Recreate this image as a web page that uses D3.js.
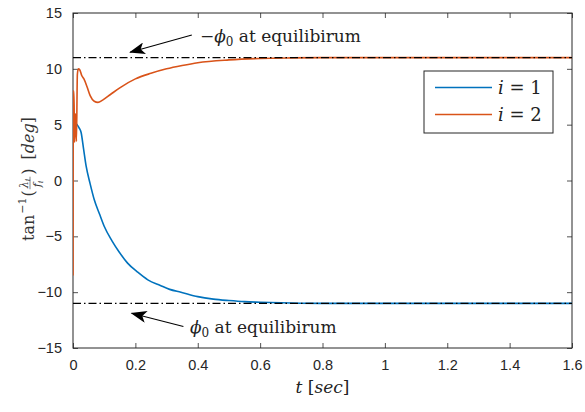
<!DOCTYPE html>
<html>
<head>
<meta charset="utf-8">
<script src="https://cdn.jsdelivr.net/npm/d3@7"></script>
<style>
  body { margin: 0; background: #fff; }
  svg { display: block; }
  text { white-space: pre; }
</style>
</head>
<body>
<div id="chart"></div>
<script>
// data
const tBlue = [0, 0.005, 0.013, 0.02, 0.026, 0.034, 0.042, 0.055, 0.068, 0.085, 0.1, 0.125, 0.148, 0.175, 0.207, 0.24, 0.28, 0.31, 0.346, 0.4, 0.45, 0.5, 0.55, 0.6, 0.7, 0.8, 1.0, 1.2, 1.4, 1.6];
const yBlue = [5.0, 5.2, 5.0, 4.7, 4.3, 2.8, 1.3, -0.3, -1.7, -3.0, -4.1, -5.4, -6.4, -7.4, -8.2, -8.9, -9.4, -9.75, -10.0, -10.4, -10.62, -10.75, -10.85, -10.9, -10.97, -11.0, -11.0, -11.0, -11.0, -11.0];
const tOrange = [0, 0.001, 0.003, 0.005, 0.008, 0.011, 0.014, 0.017, 0.022, 0.028, 0.035, 0.045, 0.055, 0.068, 0.08, 0.095, 0.12, 0.15, 0.2, 0.25, 0.3, 0.35, 0.4, 0.5, 0.6, 0.7, 0.8, 1.0, 1.2, 1.4, 1.6];
const yOrange = [-8.5, 8.0, 8.0, 3.4, 6.0, 3.5, 9.5, 10.0, 9.9, 9.4, 9.1, 8.4, 7.6, 7.1, 7.0, 7.2, 7.7, 8.3, 9.1, 9.6, 10.0, 10.3, 10.55, 10.8, 10.93, 10.98, 11.0, 11.0, 11.0, 11.0, 11.0];
const equilibrium = [11, -11];
const xTicks = [0, 0.2, 0.4, 0.6, 0.8, 1, 1.2, 1.4, 1.6];
const yTicks = [-15, -10, -5, 0, 5, 10, 15];
const seriesNames = ["1", "2"];

const width = 585, height = 412;
const margin = { top: 13, right: 13, bottom: 64, left: 73 };
const w = width - margin.left - margin.right,
  h = height - margin.top - margin.bottom;
const axisColor = "#262626";
const colors = ["#0072BD", "#D95319"];

const svg = d3.select("#chart").append("svg")
  .attr("width", width).attr("height", height);

const g = svg.append("g").attr("transform", `translate(${margin.left},${margin.top})`);

const x = d3.scaleLinear().domain([0, 1.6]).range([0, w]);
const y = d3.scaleLinear().domain([-15, 15]).range([h, 0]);

const fmt = d => d < 0 ? "\u2212" + Math.abs(d) : String(d);

// axes (ticks inward, box on)
function styleAxis(sel) {
  sel.select(".domain").remove();
  sel.selectAll(".tick line").attr("stroke", axisColor).attr("stroke-width", 0.8);
  sel.selectAll(".tick text")
    .attr("fill", axisColor)
    .style("font-family", "Liberation Sans, Arial, sans-serif")
    .style("font-size", "14.5px");
}
g.append("g").attr("transform", `translate(0,${h})`)
  .call(d3.axisBottom(x).tickValues(xTicks).tickFormat(d => d).tickSizeInner(-5).tickSizeOuter(0).tickPadding(12))
  .call(styleAxis);
g.append("g")
  .call(d3.axisTop(x).tickValues(xTicks).tickFormat("").tickSizeInner(-5).tickSizeOuter(0))
  .call(styleAxis);
g.append("g")
  .call(d3.axisLeft(y).tickValues(yTicks).tickFormat(fmt).tickSizeInner(-5).tickSizeOuter(0).tickPadding(11))
  .call(styleAxis);
g.append("g").attr("transform", `translate(${w},0)`)
  .call(d3.axisRight(y).tickValues(yTicks).tickFormat("").tickSizeInner(-5).tickSizeOuter(0))
  .call(styleAxis);

g.append("rect").attr("width", w).attr("height", h)
  .attr("fill", "none").attr("stroke", axisColor).attr("stroke-width", 1);

// clip for lines
g.append("clipPath").attr("id", "clip").append("rect").attr("width", w).attr("height", h);

const line = d3.line().x(d => x(d[0])).y(d => y(d[1])).curve(d3.curveMonotoneX);
const series = [d3.zip(tBlue, yBlue), d3.zip(tOrange, yOrange)];

g.append("g").attr("clip-path", "url(#clip)")
  .selectAll("path.series").data(series).join("path")
  .attr("class", "series")
  .attr("d", line)
  .attr("fill", "none")
  .attr("stroke", (d, i) => colors[i])
  .attr("stroke-width", 1.6);

// equilibrium dash-dot lines
g.selectAll("line.eq").data(equilibrium).join("line")
  .attr("class", "eq")
  .attr("x1", x(0)).attr("x2", x(1.6))
  .attr("y1", d => y(d)).attr("y2", d => y(d))
  .attr("stroke", "#000").attr("stroke-width", 1.4)
  .attr("stroke-dasharray", "8,3,1.5,3");

// arrow marker
svg.append("defs").append("marker")
  .attr("id", "arrow").attr("viewBox", "0 0 16 12")
  .attr("refX", 15).attr("refY", 6)
  .attr("markerWidth", 16).attr("markerHeight", 12)
  .attr("markerUnits", "userSpaceOnUse")
  .attr("orient", "auto")
  .append("path").attr("d", "M0,0 L16,6 L0,12 L4,6 Z").attr("fill", "#000");

const serif = "DejaVu Serif, serif";
const annotations = [
  { tail: [0.381, 13.03], tip: [0.183, 11.48], text: [0.407, 12.43], minus: true },
  { tail: [0.354, -13.08], tip: [0.188, -11.88], text: [0.375, -13.62], minus: false }
];
annotations.forEach(a => {
  g.append("line")
    .attr("x1", x(a.tail[0])).attr("y1", y(a.tail[1]))
    .attr("x2", x(a.tip[0])).attr("y2", y(a.tip[1]))
    .attr("stroke", "#000").attr("stroke-width", 1.1)
    .attr("marker-end", "url(#arrow)");
  const t = g.append("text")
    .attr("x", x(a.text[0])).attr("y", y(a.text[1]))
    .style("font-family", serif).style("font-size", "17px").attr("fill", "#222");
  if (a.minus) t.append("tspan").text("\u2212");
  t.append("tspan").style("font-style", "italic").text("\u03d5");
  t.append("tspan").attr("dy", 4).style("font-size", "12px").text("0");
  t.append("tspan").attr("dy", -4).text(" at equilibirum");
});

// legend
const lg = g.append("g").attr("transform", `translate(${424 - margin.left},${71 - margin.top})`);
lg.append("rect").attr("width", 129).attr("height", 62)
  .attr("fill", "#fff").attr("stroke", axisColor).attr("stroke-width", 1);
seriesNames.forEach((n, i) => {
  const yy = 16.5 + i * 27;
  lg.append("line").attr("x1", 11).attr("x2", 68).attr("y1", yy).attr("y2", yy)
    .attr("stroke", colors[i]).attr("stroke-width", 1.6);
  const t = lg.append("text").attr("x", 74).attr("y", yy + 6)
    .style("font-family", serif).style("font-size", "18px").attr("fill", "#222");
  t.append("tspan").style("font-style", "italic").text("i");
  t.append("tspan").text(" = " + n);
});

// x label
const xl = svg.append("text")
  .attr("x", margin.left + w / 2).attr("y", 393)
  .attr("text-anchor", "middle")
  .style("font-family", serif).style("font-size", "17px").attr("fill", "#222");
xl.append("tspan").style("font-style", "italic").text("t");
xl.append("tspan").text(" [");
xl.append("tspan").style("font-style", "italic").text("sec");
xl.append("tspan").text("]");

// y label: tan^-1(lambda_i / f_i) [deg]
const yl = svg.append("g").attr("transform", "translate(34,179) rotate(-90)");
const parts = yl.append("g").style("font-family", serif).attr("fill", "#333");
let cx = 0;
function piece(txt, size, dy, italic, gap) {
  cx += gap || 0;
  const t = parts.append("text").attr("x", cx).attr("y", dy)
    .style("font-size", size + "px").style("font-style", italic ? "italic" : "normal").text(txt);
  cx += t.node().getComputedTextLength();
  return t;
}
piece("tan", 16, 0, false);
piece("\u22121", 11, -8, false, 1);
piece("(", 16, 0, false, 1);
// fraction
const fx = cx + 2;
const num = parts.append("text").attr("x", fx).attr("y", -6).style("font-size", "11px").style("font-style", "italic");
num.append("tspan").text("\u03bb");
num.append("tspan").attr("dy", 2).style("font-size", "8px").text("i");
const den = parts.append("text").attr("x", fx + 1).attr("y", 7).style("font-size", "11px").style("font-style", "italic");
den.append("tspan").text("f");
den.append("tspan").attr("dy", 2).style("font-size", "8px").text("i");
const fw = Math.max(num.node().getComputedTextLength(), den.node().getComputedTextLength()) + 2;
parts.append("line").attr("x1", fx - 1).attr("x2", fx + fw).attr("y1", -4).attr("y2", -4)
  .attr("stroke", "#333").attr("stroke-width", 0.6);
cx = fx + fw + 2;
piece(")", 16, 0, false);
piece("[", 16, 0, false, 9);
piece("deg", 16, 0, true);
piece("]", 16, 0, false);
parts.attr("transform", `translate(${-cx / 2},0)`);
</script>
</body>
</html>
